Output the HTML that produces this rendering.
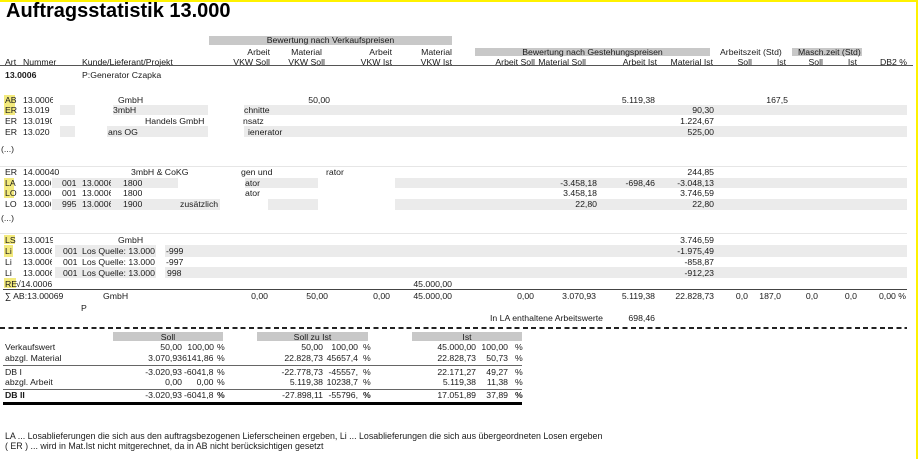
<!DOCTYPE html>
<html><head><meta charset="utf-8">
<style>
html,body{margin:0;padding:0;background:#fff}
#p{position:relative;width:918px;height:459px;overflow:hidden;background:#fff;font-family:"Liberation Sans",Arial,sans-serif;color:#1a1a1a}
.t{position:absolute;white-space:nowrap;font-size:8.7px;line-height:10px}
.k{overflow:hidden}
.g{position:absolute;background:#ebebeb}
.w{position:absolute;background:#fff}
.y{position:absolute;background:#f3ea7d}
.hb{position:absolute;background:#c8c8c8}
.c{text-align:center}
.bd{font-weight:bold}
</style></head><body><div id="p">

<!-- yellow frame -->
<div style="position:absolute;left:0;top:0;width:918px;height:2px;background:#fff200"></div>
<div style="position:absolute;left:916px;top:0;width:2px;height:459px;background:#fff200"></div>

<!-- title -->
<div style="position:absolute;left:6px;top:1px;font-size:20px;line-height:20px;font-weight:bold;color:#000;white-space:nowrap">Auftragsstatistik 13.000</div>

<!-- header bands -->
<div class="hb" style="left:209px;top:36px;width:243px;height:8.5px"></div>
<div class="t c" style="left:209px;top:35px;width:243px">Bewertung nach Verkaufspreisen</div>
<div class="hb" style="left:475px;top:48px;width:235px;height:8.3px"></div>
<div class="t c" style="left:475px;top:47px;width:235px">Bewertung nach Gestehungspreisen</div>
<div class="t" style="left:720px;top:47px">Arbeitszeit (Std)</div>
<div class="hb" style="left:792px;top:48px;width:70px;height:8.3px"></div>
<div class="t" style="left:798px;top:47px">Masch.zeit (Std)</div>

<div class="t" style="right:648px;top:46.5px">Arbeit</div>
<div class="t" style="right:596px;top:46.5px">Material</div>
<div class="t" style="right:526px;top:46.5px">Arbeit</div>
<div class="t" style="right:466px;top:46.5px">Material</div>

<div class="t" style="left:5px;top:56.5px">Art</div>
<div class="t" style="left:23px;top:56.5px">Nummer</div>
<div class="t" style="left:82px;top:56.5px">Kunde/Lieferant/Projekt</div>
<div class="t" style="right:648px;top:56.5px">VKW Soll</div>
<div class="t" style="right:593px;top:56.5px">VKW Soll</div>
<div class="t" style="right:526px;top:56.5px">VKW Ist</div>
<div class="t" style="right:466px;top:56.5px">VKW Ist</div>
<div class="t" style="right:383px;top:56.5px">Arbeit Soll</div>
<div class="t" style="right:332px;top:56.5px">Material Soll</div>
<div class="t" style="right:261px;top:56.5px">Arbeit Ist</div>
<div class="t" style="right:205px;top:56.5px">Material Ist</div>
<div class="t" style="right:166px;top:56.5px">Soll</div>
<div class="t" style="right:132px;top:56.5px">Ist</div>
<div class="t" style="right:95px;top:56.5px">Soll</div>
<div class="t" style="right:61px;top:56.5px">Ist</div>
<div class="t" style="right:11px;top:56.5px">DB2 %</div>

<div style="position:absolute;left:0;top:65px;width:913px;height:1px;background:#555"></div>

<div class="t bd k" style="left:5px;top:70px;width:34px">13.0006</div>
<div class="t" style="left:82px;top:70px">P:Generator Czapka</div>

<!-- background bands -->
<div class="g" style="left:60px;top:104.5px;width:847px;height:10.6px"></div>
<div class="w" style="left:75px;top:104.5px;width:38px;height:10.6px"></div>
<div class="g" style="left:60px;top:125.8px;width:847px;height:10.8px"></div>
<div class="w" style="left:75px;top:125.8px;width:32px;height:10.8px"></div>
<div class="w" style="left:208px;top:104.5px;width:36px;height:32.5px"></div>

<div style="position:absolute;left:0;top:166px;width:907px;height:1px;background:#e6e6e6"></div>
<div class="g" style="left:52px;top:177.7px;width:855px;height:10.6px"></div>
<div class="w" style="left:178px;top:177.7px;width:67px;height:10.6px"></div>
<div class="w" style="left:318px;top:177.7px;width:77px;height:10.6px"></div>
<div class="g" style="left:52px;top:199.3px;width:855px;height:10.7px"></div>
<div class="w" style="left:220px;top:199.3px;width:48px;height:10.7px"></div>
<div class="w" style="left:318px;top:199.3px;width:77px;height:10.7px"></div>

<div style="position:absolute;left:0;top:233px;width:907px;height:1px;background:#e6e6e6"></div>
<div class="g" style="left:55px;top:245px;width:852px;height:11.5px"></div>
<div class="w" style="left:156px;top:245px;width:9px;height:11.5px"></div>
<div class="g" style="left:55px;top:267.3px;width:852px;height:11px"></div>
<div class="w" style="left:156px;top:267.3px;width:9px;height:11px"></div>

<!-- yellow markers -->
<div class="y" style="left:4px;top:95px;width:11px;height:9.5px"></div>
<div class="y" style="left:4px;top:104.5px;width:11px;height:10.6px"></div>
<div class="y" style="left:4px;top:177.7px;width:10px;height:10.6px"></div>
<div class="y" style="left:4px;top:188.3px;width:10px;height:10px"></div>
<div class="y" style="left:4px;top:235px;width:11px;height:8.5px"></div>
<div class="y" style="left:4px;top:245px;width:9px;height:11.5px"></div>
<div class="y" style="left:4px;top:278.3px;width:12px;height:10px"></div>

<!-- AB -->
<div class="t" style="left:5px;top:95px">AB</div>
<div class="t k" style="left:23px;top:95px;width:30px">13.0006</div>
<div class="t" style="left:118px;top:95px">GmbH</div>
<div class="t" style="right:588px;top:95px">50,00</div>
<div class="t" style="right:263px;top:95px">5.119,38</div>
<div class="t" style="right:130px;top:95px">167,5</div>

<!-- ER1 -->
<div class="t" style="left:5px;top:105px">ER</div>
<div class="t" style="left:23px;top:105px">13.019</div>
<div class="t" style="left:113px;top:105px">3mbH</div>
<div class="t" style="left:244px;top:105px">chnitte</div>
<div class="t" style="right:204px;top:105px">90,30</div>

<!-- ER2 -->
<div class="t" style="left:5px;top:115.5px">ER</div>
<div class="t k" style="left:23px;top:115.5px;width:29px">13.0190</div>
<div class="t" style="left:145px;top:115.5px">Handels GmbH</div>
<div class="t" style="left:243px;top:115.5px">nsatz</div>
<div class="t" style="right:204px;top:115.5px">1.224,67</div>

<!-- ER3 -->
<div class="t" style="left:5px;top:126.5px">ER</div>
<div class="t k" style="left:23px;top:126.5px;width:29px">13.020</div>
<div class="t" style="left:108px;top:126.5px">ans OG</div>
<div class="t" style="left:248px;top:126.5px">ienerator</div>
<div class="t" style="right:204px;top:126.5px">525,00</div>

<div class="t" style="left:1px;top:144px">(...)</div>

<!-- ER 14 -->
<div class="t" style="left:5px;top:166.5px">ER</div>
<div class="t" style="left:23px;top:166.5px">14.00040</div>
<div class="t" style="left:131px;top:166.5px">3mbH &amp; CoKG</div>
<div class="t" style="left:241px;top:166.5px">gen und</div>
<div class="t" style="left:326px;top:166.5px">rator</div>
<div class="t" style="right:204px;top:166.5px">244,85</div>

<!-- LA -->
<div class="t" style="left:5px;top:177.5px">LA</div>
<div class="t k" style="left:23px;top:177.5px;width:28px">13.0006</div>
<div class="t" style="left:62px;top:177.5px">001</div>
<div class="t k" style="left:82px;top:177.5px;width:29px">13.0006</div>
<div class="t" style="left:123px;top:177.5px">1800</div>
<div class="t" style="left:245px;top:177.5px">ator</div>
<div class="t" style="right:321px;top:177.5px">-3.458,18</div>
<div class="t" style="right:263px;top:177.5px">-698,46</div>
<div class="t" style="right:204px;top:177.5px">-3.048,13</div>

<!-- LO -->
<div class="t" style="left:5px;top:188px">LO</div>
<div class="t k" style="left:23px;top:188px;width:28px">13.0006</div>
<div class="t" style="left:62px;top:188px">001</div>
<div class="t k" style="left:82px;top:188px;width:29px">13.0006</div>
<div class="t" style="left:123px;top:188px">1800</div>
<div class="t" style="left:245px;top:188px">ator</div>
<div class="t" style="right:321px;top:188px">3.458,18</div>
<div class="t" style="right:204px;top:188px">3.746,59</div>

<!-- LO2 -->
<div class="t" style="left:5px;top:198.5px">LO</div>
<div class="t k" style="left:23px;top:198.5px;width:28px">13.0006</div>
<div class="t" style="left:62px;top:198.5px">995</div>
<div class="t k" style="left:82px;top:198.5px;width:29px">13.0006</div>
<div class="t" style="left:123px;top:198.5px">1900</div>
<div class="t" style="left:180px;top:198.5px">zusätzlich</div>
<div class="t" style="right:321px;top:198.5px">22,80</div>
<div class="t" style="right:204px;top:198.5px">22,80</div>

<div class="t" style="left:1px;top:212.6px">(...)</div>

<!-- LS -->
<div class="t" style="left:5px;top:235px">LS</div>
<div class="t k" style="left:23px;top:235px;width:30px">13.0019</div>
<div class="t" style="left:118px;top:235px">GmbH</div>
<div class="t" style="right:204px;top:235px">3.746,59</div>

<!-- Li rows -->
<div class="t" style="left:5px;top:245.5px">Li</div>
<div class="t k" style="left:23px;top:245.5px;width:29px">13.0006</div>
<div class="t" style="left:63px;top:245.5px">001</div>
<div class="t" style="left:82px;top:245.5px">Los Quelle: 13.000</div>
<div class="t" style="left:166px;top:245.5px">-999</div>
<div class="t" style="right:204px;top:245.5px">-1.975,49</div>

<div class="t" style="left:5px;top:257px">Li</div>
<div class="t k" style="left:23px;top:257px;width:29px">13.0006</div>
<div class="t" style="left:63px;top:257px">001</div>
<div class="t" style="left:82px;top:257px">Los Quelle: 13.000</div>
<div class="t" style="left:166px;top:257px">-997</div>
<div class="t" style="right:204px;top:257px">-858,87</div>

<div class="t" style="left:5px;top:268px">Li</div>
<div class="t k" style="left:23px;top:268px;width:29px">13.0006</div>
<div class="t" style="left:63px;top:268px">001</div>
<div class="t" style="left:82px;top:268px">Los Quelle: 13.000</div>
<div class="t" style="left:167px;top:268px">998</div>
<div class="t" style="right:204px;top:268px">-912,23</div>

<!-- RE -->
<div class="t" style="left:5px;top:279px">RE</div>
<div class="t k" style="left:16px;top:279px;width:36px">√14.0006</div>
<div class="t" style="right:466px;top:279px">45.000,00</div>

<div style="position:absolute;left:3px;top:289px;width:904px;height:1px;background:#444"></div>

<!-- Sum -->
<div class="t" style="left:5px;top:291px">∑ AB:13.00069</div>
<div class="t" style="left:103px;top:291px">GmbH</div>
<div class="t" style="right:650px;top:291px">0,00</div>
<div class="t" style="right:590px;top:291px">50,00</div>
<div class="t" style="right:528px;top:291px">0,00</div>
<div class="t" style="right:466px;top:291px">45.000,00</div>
<div class="t" style="right:384px;top:291px">0,00</div>
<div class="t" style="right:322px;top:291px">3.070,93</div>
<div class="t" style="right:263px;top:291px">5.119,38</div>
<div class="t" style="right:204px;top:291px">22.828,73</div>
<div class="t" style="right:170px;top:291px">0,0</div>
<div class="t" style="right:137px;top:291px">187,0</div>
<div class="t" style="right:100px;top:291px">0,0</div>
<div class="t" style="right:61px;top:291px">0,0</div>
<div class="t" style="right:12px;top:291px">0,00 %</div>
<div class="t" style="left:81px;top:303px">P</div>

<div class="t" style="left:490px;top:312.5px">In LA enthaltene Arbeitswerte</div>
<div class="t" style="right:263px;top:312.5px">698,46</div>

<!-- dashed separator -->
<div style="position:absolute;left:0;top:327px;width:907px;height:2px;background:repeating-linear-gradient(90deg,#222 0,#222 5px,transparent 5px,transparent 8.3px)"></div>

<!-- summary table -->
<div class="hb" style="left:113px;top:332px;width:110px;height:9px"></div>
<div class="t c" style="left:113px;top:331.5px;width:110px">Soll</div>
<div class="hb" style="left:257px;top:332px;width:111px;height:9px"></div>
<div class="t c" style="left:257px;top:331.5px;width:111px">Soll zu Ist</div>
<div class="hb" style="left:412px;top:332px;width:110px;height:9px"></div>
<div class="t c" style="left:412px;top:331.5px;width:110px">Ist</div>

<!-- Verkaufswert -->
<div class="t" style="left:5px;top:342px">Verkaufswert</div>
<div class="t" style="right:736px;top:342px">50,00</div>
<div class="t" style="right:704px;top:342px">100,00</div>
<div class="t" style="left:217px;top:342px">%</div>
<div class="t" style="right:595px;top:342px">50,00</div>
<div class="t" style="right:560px;top:342px">100,00</div>
<div class="t" style="left:363px;top:342px">%</div>
<div class="t" style="right:442px;top:342px">45.000,00</div>
<div class="t" style="right:410px;top:342px">100,00</div>
<div class="t" style="left:515px;top:342px">%</div>

<!-- abzgl. Material -->
<div class="t" style="left:5px;top:352.5px">abzgl. Material</div>
<div class="t" style="right:736px;top:352.5px">3.070,93</div>
<div class="t" style="right:704.5px;top:352.5px">6141,86</div>
<div class="t" style="left:217px;top:352.5px">%</div>
<div class="t" style="right:595px;top:352.5px">22.828,73</div>
<div class="t" style="right:560px;top:352.5px">45657,4</div>
<div class="t" style="left:363px;top:352.5px">%</div>
<div class="t" style="right:442px;top:352.5px">22.828,73</div>
<div class="t" style="right:410px;top:352.5px">50,73</div>
<div class="t" style="left:515px;top:352.5px">%</div>

<div style="position:absolute;left:3px;top:365px;width:519px;height:1px;background:#666"></div>

<!-- DB I -->
<div class="t" style="left:5px;top:366.5px">DB I</div>
<div class="t" style="right:736px;top:366.5px">-3.020,93</div>
<div class="t" style="right:704.5px;top:366.5px">-6041,8</div>
<div class="t" style="left:217px;top:366.5px">%</div>
<div class="t" style="right:595px;top:366.5px">-22.778,73</div>
<div class="t" style="right:560px;top:366.5px">-45557,</div>
<div class="t" style="left:363px;top:366.5px">%</div>
<div class="t" style="right:442px;top:366.5px">22.171,27</div>
<div class="t" style="right:410px;top:366.5px">49,27</div>
<div class="t" style="left:515px;top:366.5px">%</div>

<!-- abzgl. Arbeit -->
<div class="t" style="left:5px;top:377px">abzgl. Arbeit</div>
<div class="t" style="right:736px;top:377px">0,00</div>
<div class="t" style="right:704.5px;top:377px">0,00</div>
<div class="t" style="left:217px;top:377px">%</div>
<div class="t" style="right:595px;top:377px">5.119,38</div>
<div class="t" style="right:560px;top:377px">10238,7</div>
<div class="t" style="left:363px;top:377px">%</div>
<div class="t" style="right:442px;top:377px">5.119,38</div>
<div class="t" style="right:410px;top:377px">11,38</div>
<div class="t" style="left:515px;top:377px">%</div>

<div style="position:absolute;left:3px;top:389px;width:519px;height:1px;background:#666"></div>

<!-- DB II -->
<div class="t bd" style="left:5px;top:390px">DB II</div>
<div class="t" style="right:736px;top:390px">-3.020,93</div>
<div class="t" style="right:704.5px;top:390px">-6041,8</div>
<div class="t bd" style="left:217px;top:390px">%</div>
<div class="t" style="right:595px;top:390px">-27.898,11</div>
<div class="t" style="right:560px;top:390px">-55796,</div>
<div class="t bd" style="left:363px;top:390px">%</div>
<div class="t" style="right:442px;top:390px">17.051,89</div>
<div class="t" style="right:410px;top:390px">37,89</div>
<div class="t bd" style="left:515px;top:390px">%</div>

<div style="position:absolute;left:3px;top:402px;width:519px;height:3px;background:#000"></div>

<!-- footnotes -->
<div class="t" style="left:5px;top:430.5px;font-size:8.85px">LA ... Losablieferungen die sich aus den auftragsbezogenen Lieferscheinen ergeben, Li ... Losablieferungen die sich aus übergeordneten Losen ergeben</div>
<div class="t" style="left:5px;top:441px;font-size:8.85px">( ER ) ... wird in Mat.Ist nicht mitgerechnet, da in AB nicht berücksichtigen gesetzt</div>

</div></body></html>
